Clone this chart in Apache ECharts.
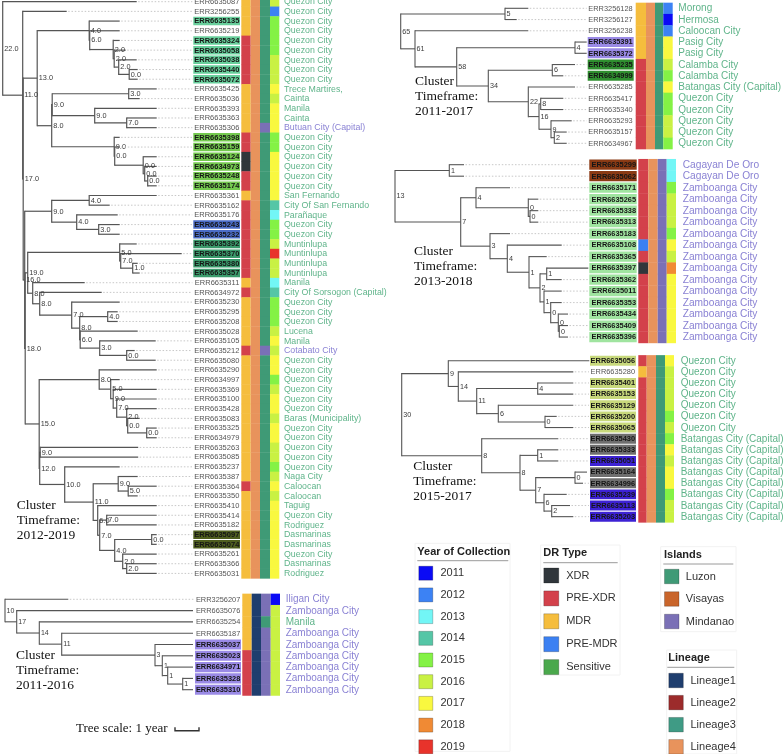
<!DOCTYPE html>
<html><head><meta charset="utf-8">
<script src="https://cdn.jsdelivr.net/npm/echarts@6/dist/echarts.min.js"></script>
<style>html,body{margin:0;padding:0;background:#fff}#c{width:783px;height:754px}</style>
</head><body><div id="c"></div>
<script>
// ================= DATA =================
const yearLabels = ['2011','2012','2013','2014','2015','2016','2017','2018','2019'];
const drLabels = ['XDR','PRE-XDR','MDR','PRE-MDR','Sensitive'];
const islandLabels = ['Luzon','Visayas','Mindanao'];
const lineageLabels = ['Lineage1','Lineage2','Lineage3','Lineage4'];
const drCode = {X:'XDR',P:'PRE-XDR',M:'MDR',B:'PRE-MDR',S:'Sensitive'};
const islandCode = {L:'Luzon',V:'Visayas',M:'Mindanao'};
const QC='Quezon City', ZC='Zamboanga City', BC='Batangas City (Capital)';

// ---- Cluster 2012-2019 ----
const c1Ids = ['ERR6635087','ERR3256255','ERR6635135','ERR6635219','ERR6635324','ERR6635058','ERR6635038','ERR6635440','ERR6635072','ERR6635425',
 'ERR6635036','ERR6635393','ERR6635363','ERR6635306','ERR6635398','ERR6635159','ERR6635124','ERR6634973','ERR6635248','ERR6635174',
 'ERR6635361','ERR6635162','ERR6635176','ERR6635243','ERR6635232','ERR6635392','ERR6635370','ERR6635380','ERR6635357','ERR6635311',
 'ERR6634972','ERR6635230','ERR6635295','ERR6635208','ERR6635028','ERR6635105','ERR6635212','ERR6635080','ERR6635290','ERR6634997',
 'ERR6635369','ERR6635100','ERR6635428','ERR6635083','ERR6635325','ERR6634979','ERR6635263','ERR6635085','ERR6635237','ERR6635387',
 'ERR6635364','ERR6635350','ERR6635410','ERR6635414','ERR6635182','ERR6635097','ERR6635074','ERR6635261','ERR6635366','ERR6635031'];
const c1Loc = [QC,QC,QC,QC,QC,QC,QC,QC,QC,'Trece Martires,',
 'Cainta','Manila','Cainta','Butuan City (Capital)',QC,QC,QC,QC,QC,QC,
 'San Fernando','City Of San Fernando','Parañaque',QC,QC,'Muntinlupa','Muntinlupa','Muntinlupa','Muntinlupa','Manila',
 'City Of Sorsogon (Capital)',QC,QC,QC,'Lucena','Manila','Cotabato City',QC,QC,QC,
 QC,QC,QC,'Baras (Municipality)',QC,QC,QC,QC,QC,'Naga City',
 'Caloocan','Caloocan','Taguig',QC,'Rodriguez','Dasmarinas','Dasmarinas',QC,'Dasmarinas','Rodriguez'];
const c1DR     = ('MMMMPPPPPM'+'MMMMPPXXPP'+'MPPPPPPPPM'+'PMMMMMPMMM'+'MMMMMMMMMM'+'PMMMMMMMMM').split('');
const c1Lin    = ('4444444444'+'4444444444'+'4444444444'+'4444444444'+'4444444444'+'4444444444').split('');
const c1Isl    = ('LLLLLLLLLL'+'LLLMLLLLLL'+'LLLLLLLLLL'+'LLLLLLMLLL'+'LLLLLLLLLL'+'LLLLLLLLLL').split('');
const c1Year   = ('6255556667'+'6777557777'+'7435569663'+'4555676775'+'6776776656'+'7677777777').split('');
const c1Hl     = ('..a.aaaaa.'+'....gggggg'+'...bbtttt.'+'..........'+'..........'+'.....oo...').split('');
// tree: [node, parent, depth, support label]
const c1Nodes = [['R',null,0,'22.0'],['N11','R',20,'11.0'],['N17','N11',20.5,'17.0'],['N13','N17',34.5,'13.0'],
 ['N4','N13',86.5,'4.0'],['N6','N4',87,'6.0'],['N2a','N6',110.5,'2.0'],['N2b','N2a',111.5,'2.0'],['N2c','N2b',116,'2.0'],['N0','N2c',126.5,'0.0'],
 ['N8','N13',49,'8.0'],['N9a','N8',49.5,'9.0'],['N3','N9a',126,'3.0'],['N9b','N9a',92,'9.0'],['N7','N9b',124,'7.0'],
 ['N9c','N8',111.5,'9.0'],['N00a','N9c',112,'0.0'],['N00b','N00a',140.5,'0.0'],['N00c','N00b',142,'0.0'],['N00d','N00c',145,'0.0'],
 ['N16','N17',22,'16.0'],['N9d','N16',49,'9.0'],['N4a','N9d',86.5,'4.0'],['N4b','N9d',74,'4.0'],['N3b','N4b',96,'3.0'],
 ['N18','N16',22.5,'18.0'],['N19','N18',25,'19.0'],['N5','N19',117,'5.0'],['N7m','N5',118,'7.0'],['N1','N7m',130,'1.0'],
 ['N8a','N19',30,'8.0'],['N8b','N8a',37,'8.0'],['N7c','N8b',69,'7.0'],['N8c','N7c',77,'8.0'],['N4c','N8c',105,'4.0'],
 ['N6c','N8c',77.5,'6.0'],['N3c','N6c',97,'3.0'],['N0c','N3c',124,'0.0'],
 ['N15','N18',36.5,'15.0'],['N8e','N15',96.5,'8.0'],['N5e','N8e',108,'5.0'],['N9e','N5e',110.5,'9.0'],['N7e','N9e',114,'7.0'],
 ['N2e','N7e',124,'2.0'],['N0e','N2e',125,'0.0'],['N0f','N0e',144,'0.0'],
 ['N12','N15',37,'12.0'],['N9g','N12',37.5,'9.0'],['N10','N12',62,'10.0'],['N11b','N10',90.5,'11.0'],['N9f','N11b',115.5,'9.0'],
 ['N5f','N9f',125.5,'5.0'],['N6f','N11b',95,'6.0'],['N7f','N6f',97,'7.0'],['N7g','N7f',104,'7.0'],['N4f','N7f',112,'4.0'],
 ['N0g','N4f',149,'0.0'],['N2g','N4f',120,'2.0'],['N2h','N2g',124,'2.0']];
const c1LeafParent = ['R','N11','N4','N6','N2a','N2b','N2c','N0','N0','N3',
 'N3','N9b','N7','N7','N9c','N00a','N00b','N00c','N00d','N00d',
 'N4a','N4a','N4b','N3b','N3b','N5','N7m','N1','N1','N8a',
 'N8b','N7c','N4c','N4c','N6c','N3c','N0c','N0c','N8e','N5e',
 'N9e','N7e','N2e','N0e','N0f','N0f','N9g','N9g','N10','N9f',
 'N5f','N5f','N6f','N7g','N7g','N0g','N0g','N2g','N2h','N2h'];
const c1LeafTip = [134,64,117,117,117,123,134,135,135,154,
 137,154,154,154,117,117,154,154,154,154,
 154,107,115,117,117,134,179,135,137,82,
 99,117,115,115,135,153,132,153,154,117,
 154,154,154,137,154,154,135.5,135.5,117,135,
 154,135,154,154,154,154,154,154,154,154];

// ---- Cluster 2011-2016 ----
const c2Ids = ['ERR3256207','ERR6635076','ERR6635254','ERR6635187','ERR6635037','ERR6635023','ERR6634971','ERR6635328','ERR6635310'];
const c2Loc = ['Iligan City',ZC,'Manila',ZC,ZC,ZC,ZC,ZC,ZC];
const c2DR = 'MMMMMPPPP'.split('');
const c2Lin = '111111111'.split('');
const c2Isl = 'MMLMMMMMM'.split('');
const c2Year = '166666666'.split('');
const c2Hl = '....ppppp'.split('');
const c2Nodes = [['R',null,0,'10'],['N17','R',11.7,'17'],['N14','N17',34.3,'14'],['N11','N14',56.7,'11'],
 ['N3','N11',150,'3'],['N1a','N3',157.3,'1'],['N1b','N1a',162.7,'1'],['N1c','N1b',177.7,'1']];
const c2LeafParent = ['R','N17','N14','N11','N3','N1a','N1b','N1c','N1c'];
const c2LeafTip = [63.3,188,188,188,188,188,188,188,188];

// ---- Cluster 2011-2017 ----
const c3Ids = ['ERR3256128','ERR3256127','ERR3256238','ERR6635391','ERR6635372','ERR6635235','ERR6634999','ERR6635285','ERR6635417','ERR6635340','ERR6635293','ERR6635157','ERR6634967'];
const c3Loc = ['Morong','Hermosa','Caloocan City','Pasig City','Pasig City','Calamba City','Calamba City',BC,QC,QC,QC,QC,QC];
const c3DR = 'MMMMMPPPPPPPP'.split('');
const c3Lin = '4444444444444'.split('');
const c3Isl = 'LLLLLLLLLLLLL'.split('');
const c3Year = '2127765755665'.split('');
const c3Hl = '...ppdd......'.split('');
const c3Nodes = [['R',null,0,'65'],['N5','R',104.3,'5'],['N61','R',14.3,'61'],['N58','N61',56,'58'],['N4','N58',174.3,'4'],
 ['N34','N58',87.6,'34'],['N6','N34',151.6,'6'],['N22','N34',127.6,'22'],['N16','N22',138.3,'16'],['N8','N16',140,'8'],
 ['N9','N16',150.3,'9'],['N2','N9',153.6,'2']];
const c3LeafParent = ['N5','N5','N61','N4','N4','N6','N6','N22','N8','N8','N9','N2','N2'];
const c3LeafTip = [127.6,116,127.6,186,186,174.3,162.6,174.3,162.6,162.6,171,166,166];

// ---- Cluster 2013-2018 ----
const c4Ids = ['ERR6635299','ERR6635062','ERR6635171','ERR6635265','ERR6635338','ERR6635313','ERR6635183','ERR6635108','ERR6635365','ERR6635397','ERR6635362','ERR6635011','ERR6635353','ERR6635434','ERR6635409','ERR6635396'];
const c4Loc = ['Cagayan De Oro','Cagayan De Oro',ZC,ZC,ZC,ZC,ZC,ZC,ZC,ZC,ZC,ZC,ZC,ZC,ZC,ZC];
const c4DR = 'PPPPPPPBPXPPPPPP'.split('');
const c4Lin = '4444444444444444'.split('');
const c4Isl = 'MMMMMMMMMMMMMMMM'.split('');
const c4Year = '3356665768777777'.split('');
const c4Hl = 'rrllllllllllllll'.split('');
const c4Nodes = [['R',null,0,'13'],['N1','R',54.3,'1'],['N7','R',65.7,'7'],['N4','N7',81,'4'],['N0a','N4',133.3,'0'],
 ['N0b','N0a',135,'0'],['N3','N7',95,'3'],['N4b','N3',112.3,'4'],['N1c','N4b',134,'1'],['N2','N1c',145,'2'],
 ['N1d','N2',151.7,'1'],['N1e','N2',149,'1'],['N0x','N1e',155.7,'0'],['N0y','N0x',163.3,'0'],['N0z','N0y',164.3,'0']];
const c4LeafParent = ['N1','N1','N4','N0a','N0b','N0b','N3','N4b','N1c','N1d','N1d','N1e','N0x','N0y','N0z','N0z'];
const c4LeafTip = [69,69,115,143.3,143.3,143.3,115,166.7,151.7,193.3,166.7,166.7,166.7,173,173,173];

// ---- Cluster 2015-2017 ----
const c5Ids = ['ERR6635056','ERR6635280','ERR6635401','ERR6635153','ERR6635129','ERR6635200','ERR6635065','ERR6635430','ERR6635333','ERR6635051','ERR6635164','ERR6634996','ERR6635239','ERR6635113','ERR6635203'];
const c5Loc = [QC,QC,QC,QC,QC,QC,QC,BC,BC,BC,BC,BC,BC,BC,BC];
const c5DR = 'PMPPPPPPPPPPPPP'.split('');
const c5Lin = '444444444444444'.split('');
const c5Isl = 'LLLLLLLLLLLLLLL'.split('');
const c5Year = '766665657677566'.split('');
const c5Hl = 'y.yyyyykkvkkvvv'.split('');
const c5Nodes = [['R',null,0,'30'],['N9','R',46.6,'9'],['N14','N9',56.6,'14'],['N11','N14',75,'11'],['N4','N11',136,'4'],
 ['N6','N11',96.6,'6'],['N0','N6',143.3,'0'],['N8','R',80,'8'],['N8b','N8',118.3,'8'],['N1','N8b',136,'1'],
 ['N7','N8b',134,'7'],['N0b','N7',173.3,'0'],['N6b','N7',142.3,'6'],['N2','N6b',150,'2']];
const c5LeafParent = ['N9','N14','N4','N4','N6','N0','N0','N8','N1','N1','N0b','N0b','N6b','N2','N2'];
const c5LeafTip = [187.6,171.6,171.6,171.6,171.6,155,171.6,156.6,156.6,156.6,185.3,181.3,165,168.3,171.6];

// ================= STYLE =================
const drColor = {'XDR':'#30363b','PRE-XDR':'#d3414b','MDR':'#f5bd3d','PRE-MDR':'#3b80f2','Sensitive':'#4aa84c'};
const yearColor = {'2011':'#0a0af5','2012':'#3c82f4','2013':'#72f6f6','2014':'#55c6a6','2015':'#84f245','2016':'#c9f143','2017':'#f9f83f','2018':'#f08a34','2019':'#e8332b'};
const islandColor = {'Luzon':'#3f9a76','Visayas':'#c9652b','Mindanao':'#7a70b6'};
const lineageColor = {'Lineage1':'#1f3e6e','Lineage2':'#9c2b2b','Lineage3':'#3f9b85','Lineage4':'#e8935c'};
const locColor = {'Luzon':'#5fb48a','Visayas':'#c9652b','Mindanao':'#8a82d4'};
const hlColor = {a:'#68cf9c',g:'#74c94f',b:'#4b6cc6',t:'#3b9b6c',o:'#4f5e1f',p:'#9a8ae6',d:'#2f8f2f',r:'#8a3a14',l:'#a0e4a0',y:'#c8d97c',k:'#6f6f6f',v:'#3d22d4'};
const FONT = '"Liberation Sans", Arial, sans-serif';
const SERIF = '"Liberation Serif", "Times New Roman", serif';

const clusters = [
 {ids:c1Ids,loc:c1Loc,dr:c1DR,lin:c1Lin,isl:c1Isl,year:c1Year,hl:c1Hl,nodes:c1Nodes,lp:c1LeafParent,tip:c1LeafTip,
  lay:{root:2.7,row0:1.7,rowH:9.69,boxL:190.6,boxR:237.3,idR:236.6,strips:[238.6,248,257.3,267.3,276.6],loc:281.3,idFont:7.5,locFont:8.8,nodeFont:7.3,lw:1.2}},
 {ids:c2Ids,loc:c2Loc,dr:c2DR,lin:c2Lin,isl:c2Isl,year:c2Year,hl:c2Hl,nodes:c2Nodes,lp:c2LeafParent,tip:c2LeafTip,
  lay:{root:5,row0:599.3,rowH:11.3,boxL:190,boxR:236,idR:235.3,strips:[237.3,246.7,256,265.7,275],loc:280.7,idFont:7.4,locFont:10,nodeFont:7,lw:1.1}},
 {ids:c3Ids,loc:c3Loc,dr:c3DR,lin:c3Lin,isl:c3Isl,year:c3Year,hl:c3Hl,nodes:c3Nodes,lp:c3LeafParent,tip:c3LeafTip,
  lay:{root:400.7,row0:8.3,rowH:11.25,boxL:187,boxR:233,idR:232,strips:[235,245.3,254.3,262.6,272],loc:277.6,idFont:7.4,locFont:10,nodeFont:7.2,lw:1.1}},
 {ids:c4Ids,loc:c4Loc,dr:c4DR,lin:c4Lin,isl:c4Isl,year:c4Year,hl:c4Hl,nodes:c4Nodes,lp:c4LeafParent,tip:c4LeafTip,
  lay:{root:395,row0:164.7,rowH:11.49,boxL:194.3,boxR:241.7,idR:241,strips:[243.3,253.3,262.7,271.7,281],loc:287.7,idFont:7.4,locFont:10.2,nodeFont:7.2,lw:1.1}},
 {ids:c5Ids,loc:c5Loc,dr:c5DR,lin:c5Lin,isl:c5Isl,year:c5Year,hl:c5Hl,nodes:c5Nodes,lp:c5LeafParent,tip:c5LeafTip,
  lay:{root:401.7,row0:360.7,rowH:11.14,boxL:188.3,boxR:234.3,idR:233.3,strips:[236.6,245,254.3,263.3,272.3],loc:279,idFont:7.4,locFont:10,nodeFont:7.2,lw:1.1}}
];

// ================= BUILD =================
function buildTree(cl){
  const map = {};
  cl.nodes.forEach(([id,par,x,label]) => map[id] = {id,par,x,label,ch:[]});
  cl.lp.forEach((p,i) => map[p].ch.push({leaf:true,x:cl.tip[i],y:i}));
  cl.nodes.forEach(([id,par]) => { if (par) map[par].ch.push(map[id]); });
  function yOf(n){
    if (n.y !== undefined) return n.y;
    const ys = n.ch.map(yOf);
    n.ymin = Math.min(...ys); n.ymax = Math.max(...ys);
    n.y = (n.ymin + n.ymax) / 2; return n.y;
  }
  const segs = [], labels = [];
  cl.nodes.forEach(([id]) => {
    const n = map[id]; yOf(n);
    segs.push([n.x, n.ymin, n.x, n.ymax]);
    n.ch.forEach(c => segs.push([n.x, c.y, c.x, c.y]));
    labels.push({v:[n.x, n.y], t:n.label});
  });
  return {segs, labels};
}

const W = 300;
const grids = [], xAxes = [], yAxes = [], series = [];
clusters.forEach((cl, k) => {
  const L = cl.lay, n = cl.ids.length;
  const top = Math.max(0, L.row0 - L.rowH/2);
  const bottomPx = L.row0 + (n - 0.5) * L.rowH;
  grids.push({left:L.root, top:top, width:W, height:bottomPx - top, outerBoundsMode:'none', containLabel:false});
  xAxes.push({type:'value', gridIndex:k, min:0, max:W, show:false});
  yAxes.push({type:'value', gridIndex:k, min:(top - L.row0)/L.rowH, max:n - 0.5, inverse:true, show:false});
  const t = buildTree(cl);
  series.push({
    type:'custom', xAxisIndex:k, yAxisIndex:k, silent:true, z:2, clip:false,
    data:t.segs, encode:{x:[0,2], y:[1,3]},
    renderItem:(p, api) => {
      const a = api.coord([api.value(0), api.value(1)]), b = api.coord([api.value(2), api.value(3)]);
      const vert = Math.abs(a[0]-b[0]) < 0.01;
      const e = vert ? L.lw/2 : 0;
      return {type:'line', shape:{x1:a[0], y1:a[1]-e, x2:b[0], y2:b[1]+e}, style:{stroke:'#555', lineWidth:L.lw}};
    }
  });
  series.push({
    type:'custom', xAxisIndex:k, yAxisIndex:k, silent:true, z:3, clip:false,
    data:t.labels.map(d => d.v), encode:{x:0, y:1},
    renderItem:(p, api) => {
      const c = api.coord([api.value(0), api.value(1)]);
      return {type:'text', style:{x:c[0]+1.6, y:c[1]+0.3, text:t.labels[p.dataIndex].t, fill:'#3a3a3a',
        fontSize:L.nodeFont, fontFamily:FONT, align:'left', verticalAlign:'middle'}};
    }
  });
  series.push({
    type:'custom', xAxisIndex:k, yAxisIndex:k, silent:true, z:4, clip:false,
    data:cl.ids.map((_, i) => [0, i]), encode:{x:0, y:1},
    renderItem:(p, api) => {
      const i = p.dataIndex;
      const yc = api.coord([0, i])[1];
      const h = api.size([0, 1])[1];
      const X = v => api.coord([v, i])[0];
      const ch = [];
      const tip = cl.tip[i];
      if (tip < L.boxL - 3) ch.push({type:'line', shape:{x1:X(tip)+1.5, y1:yc, x2:X(L.boxL)-1, y2:yc},
        style:{stroke:'#c2c2c2', lineWidth:0.9, lineDash:[1.5,1.8]}});
      const hl = cl.hl[i];
      if (hl !== '.') ch.push({type:'rect', shape:{x:X(L.boxL), y:yc-h/2+0.6, width:X(L.boxR)-X(L.boxL), height:h-1.2}, style:{fill:hlColor[hl]}});
      ch.push({type:'text', style:{x:X(L.idR), y:yc+0.3, text:cl.ids[i], fill: hl !== '.' ? '#151515' : '#555',
        fontSize:L.idFont, fontFamily:FONT, fontWeight: hl !== '.' ? 'bold' : 'normal', align:'right', verticalAlign:'middle'}});
      const isl = islandCode[cl.isl[i]];
      const cols = [drColor[drCode[cl.dr[i]]], lineageColor['Lineage' + cl.lin[i]], islandColor[isl], yearColor[String(2010 + Number(cl.year[i]))]];
      cols.forEach((c, m) => ch.push({type:'rect',
        shape:{x:X(L.strips[m]), y:yc-h/2, width:X(L.strips[m+1])-X(L.strips[m]), height:h+0.4}, style:{fill:c}}));
      ch.push({type:'text', style:{x:X(L.loc), y:yc+0.3, text:cl.loc[i], fill:locColor[isl],
        fontSize:L.locFont, fontFamily:FONT, align:'left', verticalAlign:'middle'}});
      return {type:'group', children:ch};
    }
  });
});

// legend dummy series (one per category)
function addLegendSeries(names, colorMap){
  names.forEach(nm => series.push({type:'scatter', name:nm, xAxisIndex:0, yAxisIndex:0, data:[],
    itemStyle:{color:colorMap[nm], opacity:1, borderColor:'rgba(0,0,0,0.22)', borderWidth:1}}));
}
addLegendSeries(yearLabels, yearColor);
addLegendSeries(drLabels, drColor);
addLegendSeries(islandLabels, islandColor);
addLegendSeries(lineageLabels, lineageColor);

function legend(names, left, firstCenter, size, step, textLeft){
  return {type:'plain', orient:'vertical', left:left, top:firstCenter - size/2, width:110, height:names.length * step + 20,
    padding:0, itemWidth:size, itemHeight:size,
    itemGap:step - size, icon:'rect', selectedMode:false, data:names,
    itemStyle:{opacity:1, borderColor:'rgba(0,0,0,0.22)', borderWidth:1},
    textStyle:{fontSize:11, color:'#333', fontFamily:FONT, lineHeight:size, padding:[0,0,0,Math.max(0, textLeft - left - size - 5)]}};
}
const legends = [
  legend(yearLabels, 418.3, 572.7, 14, 20.7, 440),
  legend(drLabels, 543.3, 575, 15, 21.9, 565.7),
  legend(islandLabels, 664, 576, 14.5, 21.5, 685.3),
  legend(lineageLabels, 668.3, 680, 14.5, 21.1, 690)
];

const graphics = [];
function legendBox(x, y, w, h, title, tx, ty, uy, ux1, ux2){
  graphics.push({type:'rect', shape:{x:x, y:y, width:w, height:h}, style:{fill:'rgba(0,0,0,0)', stroke:'#f2f2f2', lineWidth:1}, z:1});
  graphics.push({type:'text', x:tx, y:ty, style:{text:title, fill:'#222', fontSize:11, fontWeight:'bold', fontFamily:FONT, verticalAlign:'middle'}, z:2});
  graphics.push({type:'line', shape:{x1:ux1, y1:uy, x2:ux2, y2:uy}, style:{stroke:'#9a9a9a', lineWidth:1}, z:2});
}
legendBox(415, 543.3, 95, 208, 'Year of Collection', 417.3, 551.7, 560.7, 417.3, 508.3);
legendBox(540.7, 545, 79.3, 130, 'DR Type', 543.3, 553.3, 562.7, 543.3, 617.7);
legendBox(660.7, 546.7, 75.3, 85, 'Islands', 664, 555, 564, 663.3, 733.3);
legendBox(666.7, 650, 70, 104, 'Lineage', 668.3, 658.3, 667.3, 667.3, 734.3);

const clusterTitles = [
  ['2012-2019', 16.7, 505], ['2011-2016', 16, 655], ['2011-2017', 415, 81.7], ['2013-2018', 414, 251.7], ['2015-2017', 413.3, 466.7]
];
clusterTitles.forEach(([yr, x, y]) => graphics.push({type:'text', x:x, y:y - 7.5,
  style:{text:'Cluster\nTimeframe:\n' + yr, fill:'#111', fontSize:13.5, fontFamily:SERIF, lineHeight:15, verticalAlign:'top'}, z:5}));
graphics.push({type:'text', x:76, y:728.5, style:{text:'Tree scale: 1 year', fill:'#111', fontSize:13, fontFamily:SERIF, verticalAlign:'middle'}});
graphics.push({type:'polyline', shape:{points:[[175,727.3],[175,730.7],[199,730.7],[199,727.3]]}, style:{stroke:'#333', lineWidth:1.4, fill:null}});

const chart = echarts.init(document.getElementById('c'), null, {renderer:'canvas'});
chart.setOption({
  animation:false, backgroundColor:'#fff',
  grid:grids, xAxis:xAxes, yAxis:yAxes, legend:legends, series:series, graphic:{elements:graphics}
});
</script></body></html>
